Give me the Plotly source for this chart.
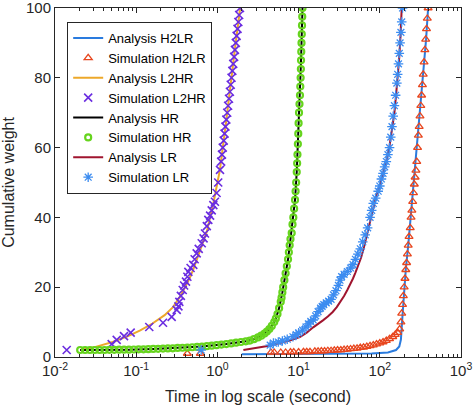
import plotly.graph_objects as go

# ---- data (time given as log10 of seconds, cumulative weight) ----
h2lr_ana_logt = [0.30, 1.0, 1.5, 1.9, 2.1, 2.2, 2.24, 2.26, 2.28, 2.30, 2.32, 2.35, 2.38, 2.42, 2.46, 2.50, 2.54, 2.57, 2.595]
h2lr_ana_w    = [0.8, 0.8, 0.9, 1.0, 1.3, 2.0, 3.0, 5.0, 12, 20, 25, 32, 40, 49, 60, 71, 82, 91, 100]

h2lr_sim_logt = [-0.37, -0.21, 0.66, 0.70, 0.78, 0.84, 0.90, 0.94, 1.00, 1.06, 1.10, 1.14, 1.20, 1.24, 1.28,
                 1.32, 1.36, 1.40, 1.44, 1.48, 1.52, 1.56, 1.60, 1.64, 1.68, 1.72, 1.76, 1.80, 1.84, 1.88,
                 1.92, 1.96, 2.00, 2.04, 2.08, 2.12, 2.16, 2.19, 2.22, 2.245, 2.26, 2.27, 2.28, 2.29, 2.30,
                 2.31, 2.32, 2.33, 2.34, 2.35, 2.36, 2.375, 2.385, 2.395, 2.405, 2.415, 2.425, 2.435, 2.445,
                 2.455, 2.465, 2.475, 2.485, 2.495, 2.505, 2.515, 2.525, 2.535, 2.545, 2.555, 2.565, 2.575,
                 2.585, 2.595]
h2lr_sim_w    = [1.0, 1.0, 1.3, 1.3, 1.3, 1.3, 1.4, 1.4, 1.4, 1.5, 1.5, 1.5, 1.6, 1.6, 1.7,
                 1.7, 1.8, 1.8, 1.9, 2.0, 2.0, 2.1, 2.2, 2.3, 2.4, 2.5, 2.7, 2.8, 3.0, 3.2,
                 3.4, 3.7, 4.0, 4.3, 4.7, 5.2, 5.8, 6.4, 7.0, 8.0, 10, 12.5, 15, 17.5, 20,
                 22.5, 25, 27, 29.5, 32, 34.5, 37, 40, 42, 44.5, 47, 49.5, 51.5, 53.5,
                 56, 60, 63.5, 66, 69, 72, 75, 78, 81, 84.5, 88, 91, 94,
                 97, 100]

l2hr_ana_logt = [-1.69, -1.5, -1.29, -1.1, -0.95, -0.8, -0.65, -0.55, -0.46, -0.40, -0.35, -0.30, -0.25, -0.19,
                 -0.13, -0.05, 0.03, 0.10, 0.15, 0.22, 0.28]
l2hr_ana_w    = [2.0, 2.9, 4.3, 6.0, 7.6, 9.6, 12.0, 14.2, 17.3, 19.8, 22.2, 24.9, 28, 32,
                 36, 44, 53.5, 66, 76, 89, 100]

l2hr_sim_logt = [-1.856, -1.302, -1.240, -1.150, -1.068, -0.839, -0.670, -0.563, -0.501, -0.48, -0.469, -0.45,
                 -0.427, -0.41, -0.387, -0.37, -0.358, -0.33, -0.297, -0.28, -0.255, -0.23, -0.193, -0.17,
                 -0.153, -0.13, -0.112, -0.09, -0.070, -0.05, -0.030, -0.01, 0.01, 0.032,
                 0.046, 0.056, 0.066, 0.078, 0.088, 0.099, 0.110, 0.121, 0.132, 0.143, 0.154, 0.164,
                 0.174, 0.184, 0.195, 0.206, 0.216, 0.227, 0.237, 0.248, 0.258, 0.268, 0.278]
l2hr_sim_w    = [2.0, 3.7, 4.9, 6.0, 7.0, 8.6, 9.8, 11.5, 13.5, 14.5, 15.8, 17.5,
                 19.2, 20.5, 21.6, 23, 24.4, 25.5, 26.4, 28, 29.7, 31, 32.6, 34,
                 35.4, 37.5, 39.3, 40.5, 42.0, 43.5, 44.5, 47, 50, 53.6,
                 56, 58, 60, 62, 64, 66, 68, 70, 72, 74, 76, 78,
                 80, 82, 84, 86, 88, 90, 92, 94, 96, 98, 100]

hr_ana_logt = [-1.69, -1.39, -1.09, -0.79, -0.49, -0.19, 0.11, 0.35, 0.45, 0.54, 0.61, 0.67, 0.72, 0.76,
               0.80, 0.84, 0.87, 0.90, 0.935, 0.956, 0.977, 0.996, 1.017, 1.03, 1.048]
hr_ana_w    = [2.0, 2.0, 2.1, 2.3, 2.6, 3.0, 3.7, 4.5, 5.1, 6.1, 7.3, 8.9, 11.0, 14.0,
               18.5, 24, 28, 33.8, 40, 45, 53, 64, 75, 85, 100]

hr_sim_logt = [-1.69, -1.63, -1.57, -1.51, -1.45, -1.39, -1.33, -1.27, -1.21, -1.15, -1.09, -1.03, -0.97,
               -0.91, -0.85, -0.79, -0.73, -0.67, -0.61, -0.55, -0.49, -0.43, -0.37, -0.31, -0.25, -0.19,
               -0.13, -0.07, -0.01, 0.05, 0.11, 0.17, 0.23, 0.29, 0.35, 0.40, 0.45, 0.50, 0.54, 0.58,
               0.61, 0.64, 0.67, 0.70, 0.72, 0.74, 0.76, 0.78, 0.79, 0.80, 0.81, 0.825, 0.84, 0.855,
               0.87, 0.88, 0.89, 0.90, 0.915, 0.925, 0.935, 0.945, 0.956, 0.963, 0.97, 0.977, 0.982,
               0.986, 0.991, 0.996, 1.0, 1.005, 1.011, 1.017, 1.021, 1.025, 1.028, 1.03, 1.033, 1.036,
               1.039, 1.042, 1.045, 1.048]
hr_sim_w    = [2.0, 2.0, 2.0, 2.0, 2.0, 2.0, 2.05, 2.05, 2.1, 2.1, 2.1, 2.15, 2.2,
               2.2, 2.25, 2.3, 2.35, 2.4, 2.45, 2.5, 2.6, 2.65, 2.7, 2.8, 2.9, 3.0,
               3.1, 3.25, 3.4, 3.55, 3.7, 3.9, 4.1, 4.3, 4.5, 4.7, 5.1, 5.6, 6.1, 6.7,
               7.3, 8.0, 8.9, 10.0, 11.0, 12.3, 14.0, 15.8, 17, 18.5, 20, 22, 24, 26,
               28, 30, 32, 33.8, 35.5, 38, 40, 42.5, 45, 47.5, 50, 53, 55.5,
               58, 61, 64, 67, 70, 72.5, 75, 77.5, 80, 82.5, 85, 87.5, 90,
               92.5, 95, 97.5, 100]

lr_ana_logt = [0.32, 0.45, 0.6, 0.77, 0.9, 1.02, 1.1, 1.18, 1.25, 1.3, 1.36, 1.42, 1.47, 1.52, 1.56, 1.6,
               1.64, 1.67, 1.7, 1.74, 1.77, 1.8, 1.83, 1.86, 1.89, 1.92, 1.96, 2.0, 2.04, 2.08, 2.12,
               2.15, 2.18, 2.2, 2.22, 2.24, 2.255, 2.27]
lr_ana_w    = [2, 2.5, 3.1, 4, 4.8, 5.8, 7.0, 8.5, 9.6, 10.5, 11.6, 12.9, 14.3, 16.0, 17.5, 19.2,
               21, 22.5, 24.2, 26.5, 28.5, 31, 34, 37, 40, 43.3, 46.5, 49, 52.5, 56, 60.5,
               65, 70, 75, 80, 86, 92, 100]

lr_sim_logt = [-0.20, 0.65, 0.69, 0.75, 0.80, 0.86, 0.93, 0.97, 1.0, 1.05, 1.09, 1.12, 1.15, 1.18, 1.21,
               1.24, 1.27, 1.29, 1.31, 1.34, 1.37, 1.40, 1.43, 1.46, 1.49, 1.51, 1.53, 1.56, 1.60, 1.64,
               1.67, 1.70, 1.73, 1.76, 1.79, 1.82, 1.85, 1.88, 1.90, 1.92, 1.95, 1.98, 2.0, 2.02, 2.04,
               2.06, 2.08, 2.10, 2.12, 2.135, 2.15, 2.165, 2.18, 2.195, 2.21, 2.22, 2.23, 2.24, 2.25,
               2.26, 2.27, 2.28]
lr_sim_w    = [2, 3.4, 4, 4.3, 4.6, 5.1, 5.8, 6.4, 6.9, 7.7, 8.6, 9.5, 10.2, 10.6, 11.8,
               13, 14, 14.5, 15, 15.5, 16, 16.5, 17.8, 19, 20.5, 22, 23, 23.7, 24.5, 25.5,
               26.5, 28, 29.5, 31, 33, 35, 37, 40, 42, 44, 45.5, 47.5, 49, 51, 52.6,
               54.5, 56, 58, 60, 63, 66, 69, 72, 75, 78.5, 81, 84, 87, 90,
               93, 96, 100]

x_tick_exp = [-2, -1, 0, 1, 2, 3]
y_ticks = [0, 20, 40, 60, 80, 100]


def t(v):
    return [10 ** e for e in v]


TXT = "#262626"
fig = go.Figure()

fig.add_trace(go.Scatter(x=t(h2lr_ana_logt), y=h2lr_ana_w, mode="lines", name="Analysis H2LR",
                         line=dict(color="#2A7BDE", width=2)))
fig.add_trace(go.Scatter(x=t(h2lr_sim_logt), y=h2lr_sim_w, mode="markers", name="Simulation H2LR",
                         marker=dict(symbol="triangle-up-open", size=7, color="#E8461E", line=dict(width=1.3))))
fig.add_trace(go.Scatter(x=t(l2hr_ana_logt), y=l2hr_ana_w, mode="lines", name="Analysis L2HR",
                         line=dict(color="#EDA82A", width=2)))
fig.add_trace(go.Scatter(x=t(l2hr_sim_logt), y=l2hr_sim_w, mode="markers", name="Simulation L2HR",
                         marker=dict(symbol="x-thin-open", size=8, color="#6A2CE0",
                                     line=dict(width=1.6, color="#6A2CE0"))))
fig.add_trace(go.Scatter(x=t(hr_ana_logt), y=hr_ana_w, mode="lines", name="Analysis HR",
                         line=dict(color="#000000", width=2)))
fig.add_trace(go.Scatter(x=t(hr_sim_logt), y=hr_sim_w, mode="markers", name="Simulation HR",
                         marker=dict(symbol="circle-open", size=6, color="#66D41E", line=dict(width=2.2))))
fig.add_trace(go.Scatter(x=t(lr_ana_logt), y=lr_ana_w, mode="lines", name="Analysis LR",
                         line=dict(color="#A0152F", width=2)))
fig.add_trace(go.Scatter(x=t(lr_sim_logt), y=lr_sim_w, mode="markers", name="Simulation LR",
                         marker=dict(symbol="asterisk-open", size=8, color="#3C8CF0",
                                     line=dict(width=1.3, color="#3C8CF0"))))

minor_vals = [m * 10 ** e for e in x_tick_exp[:-1] for m in range(2, 10)]

fig.update_layout(
    width=474, height=409,
    margin=dict(l=55, r=13, t=8, b=52),
    paper_bgcolor="white", plot_bgcolor="white",
    font=dict(family="Liberation Sans, Arial, sans-serif", size=15, color=TXT),
    showlegend=True,
    legend=dict(x=0.03, y=0.96, xanchor="left", yanchor="top",
                bgcolor="white", bordercolor=TXT, borderwidth=1,
                font=dict(size=13, color="#000000"), tracegroupgap=0, itemwidth=30),
    xaxis=dict(type="log", range=[-2, 3], automargin=False, ticklabeloverflow="allow",
               tickmode="array", tickvals=[10 ** e for e in x_tick_exp],
               ticktext=["10<sup>%d</sup>" % e for e in x_tick_exp],
               ticks="inside", ticklen=5, tickcolor=TXT,
               showline=True, linecolor=TXT, linewidth=1, mirror="allticks",
               showgrid=False, zeroline=False,
               minor=dict(tickmode="array", tickvals=minor_vals, ticks="inside", ticklen=3,
                          tickcolor=TXT, showgrid=False),
               title=dict(text="Time in log scale (second)", font=dict(size=16), standoff=12)),
    yaxis=dict(range=[0, 100], tickvals=y_ticks, automargin=False, ticklabeloverflow="allow",
               ticks="inside", ticklen=5, tickcolor=TXT,
               showline=True, linecolor=TXT, linewidth=1, mirror="allticks",
               showgrid=False, zeroline=False,
               title=dict(text="Cumulative weight", font=dict(size=16), standoff=8)),
)

fig.write_html("out.html", config={"displayModeBar": False},
               post_script="document.body.style.margin='0';document.body.style.overflow='hidden';")
